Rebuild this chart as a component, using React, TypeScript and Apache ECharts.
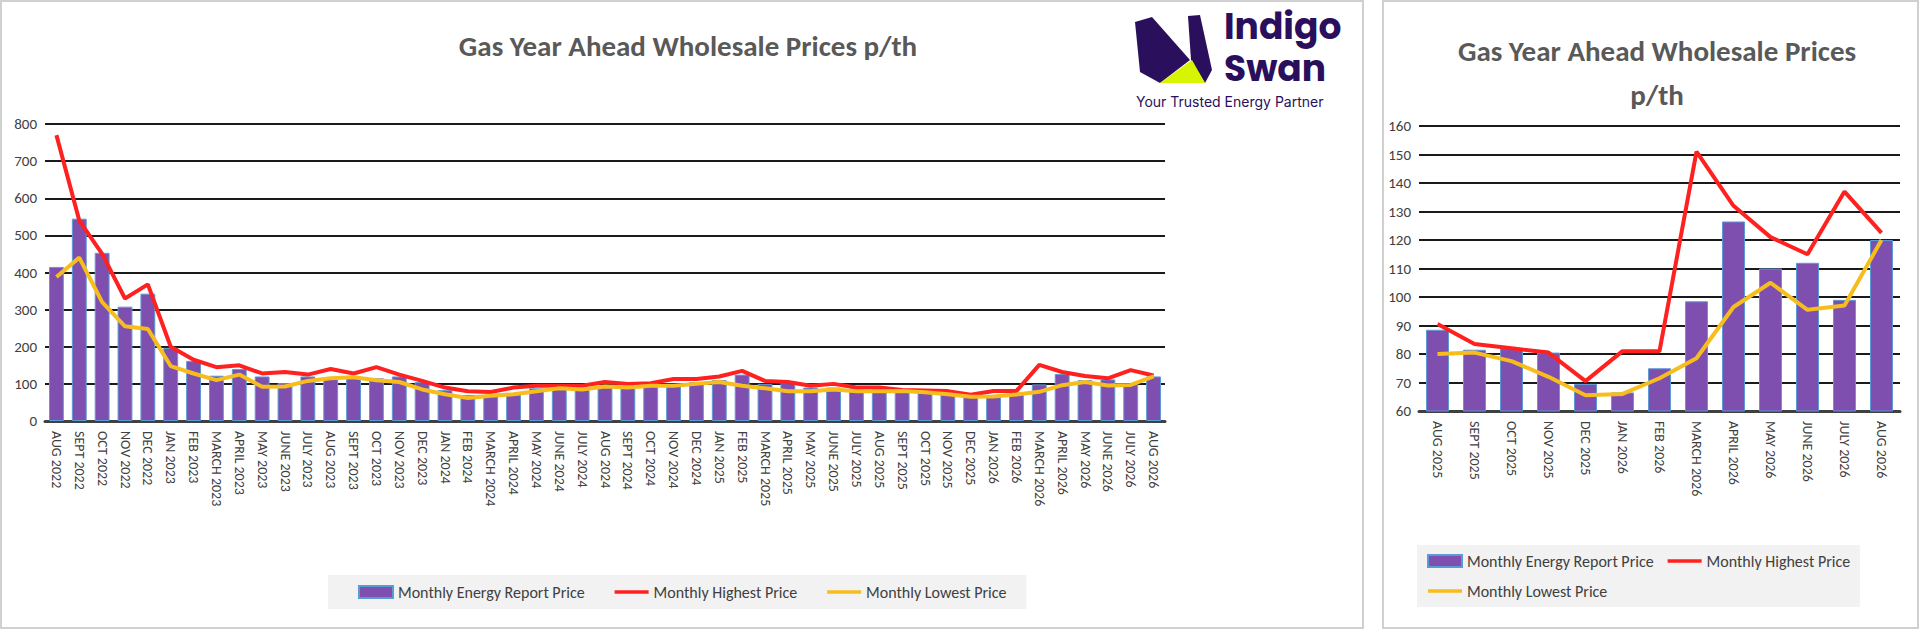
import React, { useEffect, useRef } from "react";
import * as echarts from "echarts";

const monthsAll = ["AUG 2022","SEPT 2022","OCT 2022","NOV 2022","DEC 2022","JAN 2023","FEB 2023","MARCH 2023","APRIL 2023","MAY 2023","JUNE 2023","JULY 2023","AUG 2023","SEPT 2023","OCT 2023","NOV 2023","DEC 2023","JAN 2024","FEB 2024","MARCH 2024","APRIL 2024","MAY 2024","JUNE 2024","JULY 2024","AUG 2024","SEPT 2024","OCT 2024","NOV 2024","DEC 2024","JAN 2025","FEB 2025","MARCH 2025","APRIL 2025","MAY 2025","JUNE 2025","JULY 2025","AUG 2025","SEPT 2025","OCT 2025","NOV 2025","DEC 2025","JAN 2026","FEB 2026","MARCH 2026","APRIL 2026","MAY 2026","JUNE 2026","JULY 2026","AUG 2026"];
const reportAll = [415,545,453,308,343,197,162,122,140,120,102,120,115,120,115,120,105,83,70,70,72,88,90,90,93,95,95,95,105,110,125,100,103,90,90,88,88.5,81.5,82,80.5,69.5,66.5,75,98.5,126.5,110,112,99,120];
const highAll = [770,540,450,330,368,200,165,145,150,128,132,125,140,128,145,125,108,90,80,78,90,95,95,95,105,100,102,113,113,120,135,108,105,95,100,90,90.5,83.5,82,80.5,70.5,81,81,151,132,121,115,137,122.5];
const lowAll = [388,440,320,255,248,148,128,110,125,92,93,108,115,118,110,105,85,72,62,68,72,80,88,85,93,90,95,95,100,105,95,88,80,80,85,80,80,80.5,77.5,72,65.5,66,71.5,78.5,96.5,105,95.5,97,120];
const monthsRecent = monthsAll.slice(36);
const reportRecent = reportAll.slice(36);
const highRecent = highAll.slice(36);
const lowRecent = lowAll.slice(36);

const FONT = "Calibri, Carlito, 'Liberation Sans', 'Open Sans', sans-serif";
const NAMES = ["Monthly Energy Report Price", "Monthly Highest Price", "Monthly Lowest Price"];
const LINE_ICON = "path://M0,0H40V4H0Z";

export default function App() {
  const ref = useRef<HTMLDivElement>(null);
  useEffect(() => {
    document.body.style.margin = "0";
    const chart = echarts.init(ref.current!, undefined, { renderer: "svg" });
    const axisLabel = { color: "#404040", fontFamily: FONT, fontSize: 14 };
    const yAxisBase = {
      type: "value",
      axisLine: { show: false },
      axisTick: { show: false },
      splitLine: { lineStyle: { color: "#1a1a1a", width: 2 } },
      axisLabel: { ...axisLabel, fontSize: 15 },
    };
    const xBase = (data: string[], gi: number) => ({
      type: "category",
      gridIndex: gi,
      data,
      axisTick: { show: false },
      axisLine: { lineStyle: { color: "#404040", width: 3 } },
      axisLabel: { ...axisLabel, rotate: -90, interval: 0, margin: 10 },
    });
    const mk = (gi: number, rep: number[], hi: number[], lo: number[], bw: string) => [
      { name: NAMES[0], type: "bar", xAxisIndex: gi, yAxisIndex: gi, data: rep, barWidth: bw,
        itemStyle: { color: "#7f4faf", borderColor: "#5b9bd5", borderWidth: 1 } },
      { name: NAMES[1], type: "line", xAxisIndex: gi, yAxisIndex: gi, data: hi, symbol: "none",
        lineStyle: { color: "#ff2020", width: 4 }, itemStyle: { color: "#ff2020" } },
      { name: NAMES[2], type: "line", xAxisIndex: gi, yAxisIndex: gi, data: lo, symbol: "none",
        lineStyle: { color: "#f7bd1c", width: 4 }, itemStyle: { color: "#f7bd1c" } },
    ];
    const legendText = { color: "#404040", fontFamily: FONT, fontSize: 16 };
    const legendData = [
      { name: NAMES[0], icon: "rect" },
      { name: NAMES[1], icon: LINE_ICON },
      { name: NAMES[2], icon: LINE_ICON },
    ];
    const logoFont = "bold 36px Poppins, Inter, 'Noto Sans', sans-serif";
    chart.setOption({
      animation: false,
      backgroundColor: "#ffffff",
      title: [
        { text: "Gas Year Ahead Wholesale Prices p/th", left: 683, top: 26, textAlign: "center",
          textStyle: { color: "#595959", fontFamily: FONT, fontSize: 29, fontWeight: "bold" } },
        { text: "Gas Year Ahead Wholesale Prices\np/th", left: 1652, top: 24, textAlign: "center",
          textStyle: { color: "#595959", fontFamily: FONT, fontSize: 29, fontWeight: "bold", lineHeight: 44 } },
      ],
      legend: [
        { data: legendData, left: 328, top: 575, width: 712, padding: [9, 20, 9, 30], itemGap: 30,
          itemWidth: 34, itemHeight: 12, backgroundColor: "#f2f2f2", textStyle: legendText },
        { data: legendData, left: 1417, top: 545, width: 450, padding: [8, 10, 8, 10], itemGap: 14,
          itemWidth: 34, itemHeight: 12, backgroundColor: "#f2f2f2", textStyle: legendText },
      ],
      grid: [
        { left: 45, right: 1920 - 1165, top: 124, height: 297 },
        { left: 1419, right: 20, top: 126, height: 285 },
      ],
      xAxis: [xBase(monthsAll, 0), xBase(monthsRecent, 1)],
      yAxis: [
        { ...yAxisBase, gridIndex: 0, min: 0, max: 800, interval: 100 },
        { ...yAxisBase, gridIndex: 1, min: 60, max: 160, interval: 10 },
      ],
      series: [...mk(0, reportAll, highAll, lowAll, "65%"), ...mk(1, reportRecent, highRecent, lowRecent, "62%")],
      graphic: [
        { type: "rect", shape: { x: 1, y: 1, width: 1362, height: 627 }, style: { fill: "none", stroke: "#d0d0d0", lineWidth: 2 }, z: -1 },
        { type: "rect", shape: { x: 1383, y: 1, width: 535, height: 627 }, style: { fill: "none", stroke: "#d0d0d0", lineWidth: 2 }, z: -1 },
        { type: "polygon", shape: { points: [[1135, 22], [1152, 17], [1190, 60], [1160, 83], [1140, 72]] }, style: { fill: "#2a0f5c" } },
        { type: "polygon", shape: { points: [[1188, 16], [1200, 15], [1212, 70], [1205, 83], [1191, 60]] }, style: { fill: "#2a0f5c" } },
        { type: "polygon", shape: { points: [[1160, 83], [1192, 60], [1205, 83]] }, style: { fill: "#d7f500" } },
        { type: "text", x: 1224, y: 8, style: { text: "Indigo", fill: "#2a0f5c", font: logoFont } },
        { type: "text", x: 1224, y: 50, style: { text: "Swan", fill: "#2a0f5c", font: logoFont } },
        { type: "text", x: 1136, y: 94, style: { text: "Your Trusted Energy Partner", fill: "#2a0f5c", font: "14px Inter, 'Noto Sans', sans-serif" } },
      ],
    });
    return () => chart.dispose();
  }, []);
  return <div ref={ref} style={{ width: 1920, height: 629 }} />;
}
